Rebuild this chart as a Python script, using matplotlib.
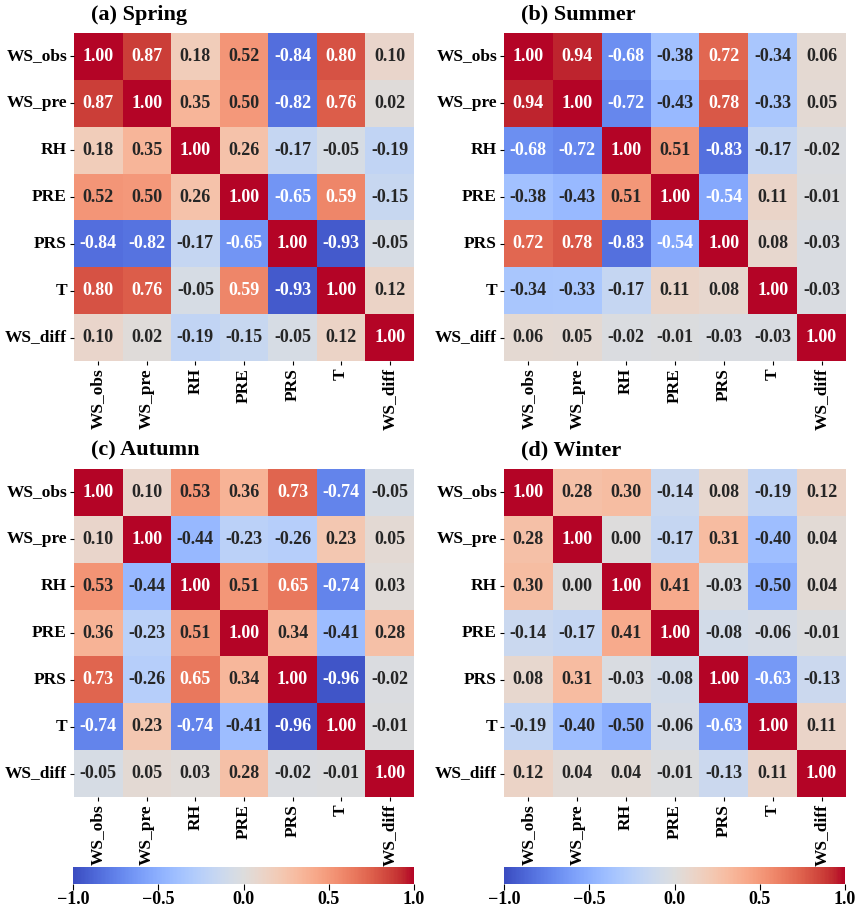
import matplotlib
matplotlib.use("Agg")
import matplotlib.pyplot as plt
import seaborn as sns
import numpy as np

plt.rcParams['font.family'] = ['Liberation Serif', 'DejaVu Serif']
plt.rcParams['font.weight'] = 'bold'

labels = ['WS_obs', 'WS_pre', 'RH', 'PRE', 'PRS', 'T', 'WS_diff']

spring = [
    [1.00, 0.87, 0.18, 0.52, -0.84, 0.80, 0.10],
    [0.87, 1.00, 0.35, 0.50, -0.82, 0.76, 0.02],
    [0.18, 0.35, 1.00, 0.26, -0.17, -0.05, -0.19],
    [0.52, 0.50, 0.26, 1.00, -0.65, 0.59, -0.15],
    [-0.84, -0.82, -0.17, -0.65, 1.00, -0.93, -0.05],
    [0.80, 0.76, -0.05, 0.59, -0.93, 1.00, 0.12],
    [0.10, 0.02, -0.19, -0.15, -0.05, 0.12, 1.00],
]
summer = [
    [1.00, 0.94, -0.68, -0.38, 0.72, -0.34, 0.06],
    [0.94, 1.00, -0.72, -0.43, 0.78, -0.33, 0.05],
    [-0.68, -0.72, 1.00, 0.51, -0.83, -0.17, -0.02],
    [-0.38, -0.43, 0.51, 1.00, -0.54, 0.11, -0.01],
    [0.72, 0.78, -0.83, -0.54, 1.00, 0.08, -0.03],
    [-0.34, -0.33, -0.17, 0.11, 0.08, 1.00, -0.03],
    [0.06, 0.05, -0.02, -0.01, -0.03, -0.03, 1.00],
]
autumn = [
    [1.00, 0.10, 0.53, 0.36, 0.73, -0.74, -0.05],
    [0.10, 1.00, -0.44, -0.23, -0.26, 0.23, 0.05],
    [0.53, -0.44, 1.00, 0.51, 0.65, -0.74, 0.03],
    [0.36, -0.23, 0.51, 1.00, 0.34, -0.41, 0.28],
    [0.73, -0.26, 0.65, 0.34, 1.00, -0.96, -0.02],
    [-0.74, 0.23, -0.74, -0.41, -0.96, 1.00, -0.01],
    [-0.05, 0.05, 0.03, 0.28, -0.02, -0.01, 1.00],
]
winter = [
    [1.00, 0.28, 0.30, -0.14, 0.08, -0.19, 0.12],
    [0.28, 1.00, 0.00, -0.17, 0.31, -0.40, 0.04],
    [0.30, 0.00, 1.00, 0.41, -0.03, -0.50, 0.04],
    [-0.14, -0.17, 0.41, 1.00, -0.08, -0.06, -0.01],
    [0.08, 0.31, -0.03, -0.08, 1.00, -0.63, -0.13],
    [-0.19, -0.40, -0.50, -0.06, -0.63, 1.00, 0.11],
    [0.12, 0.04, 0.04, -0.01, -0.13, 0.11, 1.00],
]

titles = ['(a) Spring', '(b) Summer', '(c) Autumn', '(d) Winter']
mats = [spring, summer, autumn, winter]

W, H = 858, 907
fig = plt.figure(figsize=(W / 100, H / 100), dpi=100)

# axes boxes in pixels: left, top, right, bottom
boxes = [(74, 33, 414, 361), (504, 33, 846, 361),
         (74, 469, 414, 797), (504, 469, 846, 797)]

for m, t, (l, tp, r, b) in zip(mats, titles, boxes):
    ax = fig.add_axes([l / W, 1 - b / H, (r - l) / W, (b - tp) / H])
    sns.heatmap(np.array(m), ax=ax, cmap='coolwarm', vmin=-1, vmax=1,
                annot=True, fmt='.2f', cbar=False,
                annot_kws={'fontsize': 13, 'fontweight': 'bold'},
                xticklabels=labels, yticklabels=labels)
    ax.tick_params(axis='both', length=3, width=0.8, labelsize=12.5, pad=2)
    plt.setp(ax.get_xticklabels(), rotation=90, fontweight='bold')
    plt.setp(ax.get_yticklabels(), rotation=0, fontweight='bold')
    ax.text(0.05, 1.025, t, transform=ax.transAxes, fontsize=16,
            fontweight='bold', ha='left', va='bottom')

# colorbars under each column
sm = plt.cm.ScalarMappable(cmap='coolwarm', norm=plt.Normalize(-1, 1))
for l, r in [(73, 414), (504, 845)]:
    cax = fig.add_axes([l / W, 1 - 884 / H, (r - l) / W, 17 / H])
    cb = fig.colorbar(sm, cax=cax, orientation='horizontal')
    cb.set_ticks([-1.0, -0.5, 0.0, 0.5, 1.0])
    cb.outline.set_visible(False)
    cax.tick_params(length=4, width=0.8, labelsize=13, pad=1)
    for lab in cax.get_xticklabels():
        lab.set_fontweight('bold')

fig.savefig('out.png', dpi=100)
